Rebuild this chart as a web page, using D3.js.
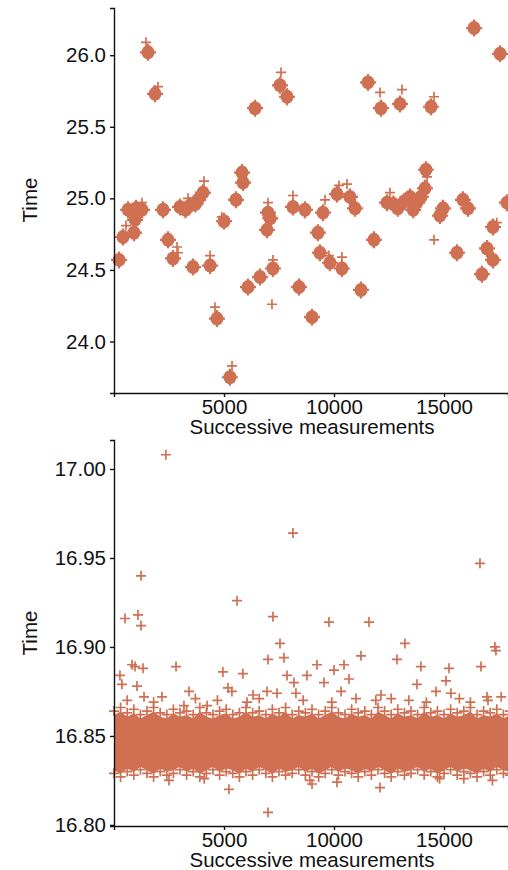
<html>
<head>
	<title>successive measurements</title>
	<style>
		body {
			margin:0;
			padding:0;
			background:#fff;
		}
		svg {
			display:block;
			font-family: "Liberation Sans", Arial, sans-serif;
		}
		.axis text {
			font-size:20.5px;
			fill:#111;
		}
		.axis path, .axis line {
			stroke:#111;
			stroke-width:1.4px;
		}
		.title {
			font-size:20.5px;
			fill:#111;
		}
	</style>
</head>
<body>

	<svg width="508" height="870"></svg>

	<script src="https://d3js.org/d3.v7.min.js"></script>
	<script>

		var colour = "#cf7053";

		// top panel: runs of measurements that sit together (centre index, time)
		var runIndex = [230, 410, 910, 955, 640, 1270, 1000, 1545, 1865, 2230, 2455, 2680, 3000, 3455, 3820, 4045, 3590, 4365,
			5000, 5545, 5865, 5820, 4680, 5270, 6090, 6410, 6635, 6955, 7000, 7225, 7545, 7865, 8135, 8410, 8680, 9000,
			9270, 9360, 9500, 9815, 10135, 10360, 10725, 10955, 11225, 11545, 11815, 12135, 12410, 12700, 12900, 13000,
			13200, 13455, 13600, 13770, 14135, 14180, 14410, 14815, 14955, 15590, 15860, 16090, 16365, 16725, 16955,
			17225, 17225, 17545, 17860, 3250, 3700, 13950, 7100];
		var runTime = [24.57, 24.73, 24.76, 24.85, 24.92, 24.92, 24.93, 26.02, 25.73, 24.92, 24.71, 24.58, 24.94, 24.95, 24.99, 25.04, 24.52, 24.53,
			24.84, 24.99, 25.11, 25.18, 24.16, 23.75, 24.38, 25.63, 24.45, 24.78, 24.90, 24.51, 25.79, 25.71, 24.94, 24.38, 24.92, 24.17,
			24.76, 24.62, 24.90, 24.55, 25.03, 24.51, 25.01, 24.93, 24.36, 25.81, 24.71, 25.63, 24.97, 24.96, 24.93, 25.66,
			24.98, 25.01, 24.92, 24.97, 25.07, 25.20, 25.64, 24.88, 24.93, 24.62, 24.99, 24.93, 26.19, 24.47, 24.65,
			24.80, 24.57, 26.01, 24.97, 24.92, 24.96, 25.01, 24.86];

		// top panel: single measurements away from a run
		var singleIndex = [1455, 2000, 5365, 4590, 4365, 7180, 14545, 7590, 12090, 13090, 14545, 545, 1270, 2865, 2910, 4090,
			3365, 8135, 7000, 9590, 10225, 10590, 10360, 9770, 7225, 12545, 14230, 17400, 4900];
		var singleTime = [26.09, 25.78, 23.83, 24.24, 24.60, 24.26, 24.71, 25.88, 25.74, 25.76, 25.71, 24.81, 24.97, 24.66, 24.62, 25.12,
			25.00, 25.02, 24.97, 24.99, 25.09, 25.10, 24.59, 24.60, 24.57, 25.04, 25.15, 24.83, 24.87];

		// bottom panel: upper and lower edge of the dense band, every 300 measurements
		var bandStep = 300;
		var bandHi = [16.864, 16.866, 16.863, 16.865, 16.862, 16.864, 16.866, 16.863, 16.862, 16.865,
			16.863, 16.864, 16.862, 16.866, 16.863, 16.862, 16.864, 16.865, 16.862, 16.863,
			16.866, 16.863, 16.864, 16.862, 16.865, 16.863, 16.866, 16.862, 16.864, 16.863,
			16.865, 16.862, 16.864, 16.866, 16.863, 16.862, 16.865, 16.863, 16.864, 16.862,
			16.866, 16.864, 16.862, 16.865, 16.863, 16.864, 16.862, 16.866, 16.863, 16.864,
			16.862, 16.865, 16.863, 16.864, 16.866, 16.862, 16.864, 16.863, 16.865, 16.862, 16.864];
		var bandLo = [16.829, 16.827, 16.830, 16.828, 16.831, 16.829, 16.827, 16.830, 16.828, 16.829,
			16.831, 16.828, 16.830, 16.827, 16.829, 16.831, 16.828, 16.830, 16.829, 16.827,
			16.830, 16.828, 16.831, 16.829, 16.827, 16.830, 16.828, 16.829, 16.831, 16.828,
			16.830, 16.827, 16.829, 16.831, 16.828, 16.830, 16.829, 16.827, 16.830, 16.828,
			16.831, 16.829, 16.827, 16.830, 16.828, 16.829, 16.831, 16.828, 16.830, 16.827,
			16.829, 16.831, 16.828, 16.830, 16.829, 16.827, 16.830, 16.828, 16.831, 16.829, 16.828];

		// bottom panel: measurements outside the band
		var outIndex = [2360, 1227, 500, 1090, 1227, 5590, 8135, 16635, 7225, 9770, 11590, 7545, 13225, 17315,
			270, 360, 820, 955, 1320, 1045, 1365, 2180, 2820, 3410, 3180, 4230, 4950, 5180, 5360, 5860, 6320, 6045,
			7000, 7725, 7865, 9225, 8770, 8180, 8270, 10000, 10455, 11225, 10680, 10320, 12860, 13950, 15225, 16680,
			13770, 14635, 15315, 15090, 16955, 12135, 6955, 7410, 9545, 17360,
			600, 1800, 3700, 4700, 6600, 8600, 9900, 11000, 11900, 12600, 13400, 14200, 15700, 16200, 17000, 17600,
			5225, 12090, 7000, 10135, 9000, 2500, 4100, 8900, 14800, 15900, 17200];
		var outTime = [17.008, 16.940, 16.916, 16.918, 16.912, 16.926, 16.964, 16.947, 16.917, 16.914, 16.914, 16.902, 16.902, 16.900,
			16.884, 16.879, 16.890, 16.889, 16.888, 16.878, 16.872, 16.872, 16.889, 16.875, 16.867, 16.867, 16.886, 16.877, 16.875, 16.885, 16.873, 16.869,
			16.893, 16.894, 16.884, 16.890, 16.884, 16.880, 16.874, 16.887, 16.890, 16.895, 16.882, 16.875, 16.893, 16.889, 16.888, 16.889,
			16.879, 16.875, 16.874, 16.881, 16.872, 16.873, 16.875, 16.874, 16.880, 16.898,
			16.870, 16.869, 16.871, 16.870, 16.871, 16.870, 16.869, 16.871, 16.870, 16.871, 16.870, 16.869, 16.871, 16.869, 16.870, 16.872,
			16.820, 16.821, 16.807, 16.824, 16.823, 16.825, 16.826, 16.825, 16.826, 16.826, 16.825];

		var xTicks = [5000, 10000, 15000];
		var topTicks = [24.0, 24.5, 25.0, 25.5, 26.0];
		var bottomTicks = [16.80, 16.85, 16.90, 16.95, 17.00];

		var svg = d3.select("svg");

		var xScale = d3.scaleLinear().domain([0, 17909]).range([114, 508]);
		var yTop = d3.scaleLinear().domain([23.64, 26.33]).range([393, 8]);
		var yBottom = d3.scaleLinear().domain([16.7994, 17.0163]).range([826, 440]);

		var cross = "M-5,0H5M0,-5V5";

		function drawAxes(y, ticks, fmt, bottomPx, midPx) {
			svg.append("g")
				.attr("class", "axis")
				.attr("transform", "translate(" + xScale.range()[0] + ",0)")
				.call(d3.axisLeft(y).tickValues(ticks).tickFormat(d3.format(fmt)).tickSizeOuter(0).tickSize(4).tickPadding(4));

			svg.append("g")
				.attr("class", "axis")
				.attr("transform", "translate(0," + bottomPx + ")")
				.call(d3.axisBottom(xScale).tickValues(xTicks).tickFormat(d3.format("d")).tickSizeOuter(0).tickSize(4).tickPadding(2));

			svg.append("text")
				.attr("class", "title")
				.attr("x", 312)
				.attr("y", bottomPx + 41)
				.attr("text-anchor", "middle")
				.text("Successive measurements");

			svg.append("text")
				.attr("class", "title")
				.attr("transform", "translate(37," + midPx + ") rotate(-90)")
				.attr("text-anchor", "middle")
				.text("Time");
		}

		// ---- top panel
		var topPanel = svg.append("g");

		var runs = topPanel.selectAll("g.run")
			.data(d3.range(runIndex.length))
			.enter()
			.append("g")
			.attr("class", "run")
			.attr("transform", function(i) {
				return "translate(" + xScale(runIndex[i]) + "," + yTop(runTime[i]) + ")";
			});

		runs.append("ellipse")
			.attr("rx", 6.5)
			.attr("ry", 7)
			.style("fill", colour);

		runs.append("path")
			.attr("d", "M-8,0H8M0,-8.5V8.5")
			.style("stroke", colour)
			.style("stroke-width", 2.2);

		topPanel.selectAll("path.single")
			.data(d3.range(singleIndex.length))
			.enter()
			.append("path")
			.attr("class", "single")
			.attr("d", cross)
			.attr("transform", function(i) {
				return "translate(" + xScale(singleIndex[i]) + "," + yTop(singleTime[i]) + ")";
			})
			.style("fill", "none")
			.style("stroke", colour)
			.style("stroke-width", 1.7);

		drawAxes(yTop, topTicks, ".1f", 393, 200);

		// ---- bottom panel
		var bottomPanel = svg.append("g");

		var band = d3.area()
			.x(function(d, i) { return xScale(i * bandStep); })
			.y0(function(d, i) { return yBottom(bandLo[i]) - 3; })
			.y1(function(d, i) { return yBottom(bandHi[i]) + 4; });

		bottomPanel.append("path")
			.attr("d", band(bandHi))
			.style("fill", colour);

		var points = bandHi.map(function(v, i) { return [i * bandStep, v]; })
			.concat(bandLo.map(function(v, i) { return [i * bandStep, v]; }))
			.concat(outIndex.map(function(v, i) { return [v, outTime[i]]; }));

		bottomPanel.selectAll("path.point")
			.data(points)
			.enter()
			.append("path")
			.attr("class", "point")
			.attr("d", cross)
			.attr("transform", function(d) {
				return "translate(" + xScale(d[0]) + "," + yBottom(d[1]) + ")";
			})
			.style("fill", "none")
			.style("stroke", colour)
			.style("stroke-width", 1.7);

		drawAxes(yBottom, bottomTicks, ".2f", 826, 633);

	</script>
</body>
</html>
